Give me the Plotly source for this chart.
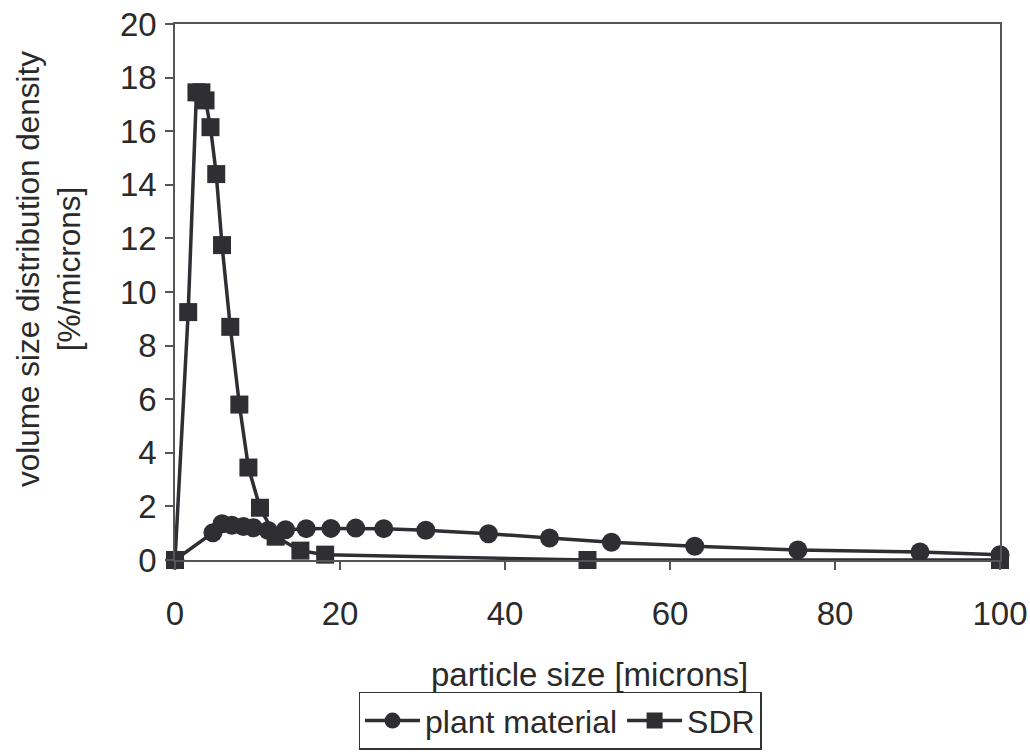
import plotly.graph_objects as go

# SDR (squares)
sdr_x = [0, 1.6, 2.6, 3.2, 3.7, 4.3, 5.0, 5.7, 6.7, 7.8, 8.9, 10.3, 12.2, 15.2, 18.2, 50.0, 100.0]
sdr_y = [0, 9.25, 17.45, 17.45, 17.15, 16.15, 14.4, 11.75, 8.7, 5.8, 3.45, 1.95, 0.87, 0.35, 0.2, 0.0, 0.0]

# plant material (circles)
pm_x = [0, 4.6, 5.7, 6.9, 8.3, 9.5, 11.3, 13.4, 15.9, 18.9, 21.9, 25.3, 30.4, 38.0, 45.4, 52.9, 63.0, 75.5, 90.3, 100.0]
pm_y = [0, 1.02, 1.35, 1.3, 1.25, 1.2, 1.1, 1.13, 1.17, 1.18, 1.19, 1.17, 1.11, 0.98, 0.82, 0.66, 0.51, 0.37, 0.3, 0.2]

x_ticks = [0, 20, 40, 60, 80, 100]
y_ticks = [0, 2, 4, 6, 8, 10, 12, 14, 16, 18, 20]

x_title = "particle size [microns]"
y_title = "volume size distribution density<br>[%/microns]"

INK = "#2e2e33"
FONT = "Liberation Sans, Arial, sans-serif"

fig = go.Figure()
fig.add_trace(go.Scatter(
    x=pm_x, y=pm_y, name="plant material", mode="lines+markers",
    line=dict(color=INK, width=3.5), cliponaxis=False,
    marker=dict(symbol="circle", size=19, color=INK),
))
fig.add_trace(go.Scatter(
    x=sdr_x, y=sdr_y, name="SDR", mode="lines+markers",
    line=dict(color=INK, width=3.5), cliponaxis=False,
    marker=dict(symbol="square", size=18, color=INK),
))

fig.update_layout(
    width=1030, height=752,
    margin=dict(l=175, r=30, t=24, b=192, autoexpand=False),
    paper_bgcolor="white", plot_bgcolor="white",
    font=dict(family=FONT, size=33, color="#2a2a2a"),
    showlegend=True,
    legend=dict(
        orientation="h", xref="container", yref="container",
        x=0.5437, xanchor="center", y=0.003, yanchor="bottom",
        bordercolor="#333", borderwidth=1.5, bgcolor="white",
        font=dict(size=32), itemwidth=55, tracegroupgap=0,
    ),
    xaxis=dict(
        range=[0, 100], tickvals=x_ticks, ticks="outside", ticklen=8, tickwidth=1.5,
        tickcolor="#555", showline=True, linecolor="#555", linewidth=1.5, mirror=True,
        showgrid=False, zeroline=False, ticklabelstandoff=16, automargin=False,
        tickfont=dict(size=33),
    ),
    yaxis=dict(
        range=[0, 20], tickvals=y_ticks, ticks="outside", ticklen=8, tickwidth=1.5,
        tickcolor="#555", showline=True, linecolor="#555", linewidth=1.5, mirror=True,
        showgrid=False, zeroline=False, ticklabelstandoff=2, automargin=False,
        tickfont=dict(size=33),
    ),
    annotations=[
        dict(text=x_title, xref="paper", yref="paper", x=0.503, y=-0.214,
             xanchor="center", yanchor="middle", showarrow=False, font=dict(size=33)),
        dict(text=y_title, xref="paper", yref="paper", x=-0.1527, y=0.543,
             xanchor="center", yanchor="middle", textangle=-90, showarrow=False,
             font=dict(size=31.5)),
    ],
)

fig.write_html("out.html")
